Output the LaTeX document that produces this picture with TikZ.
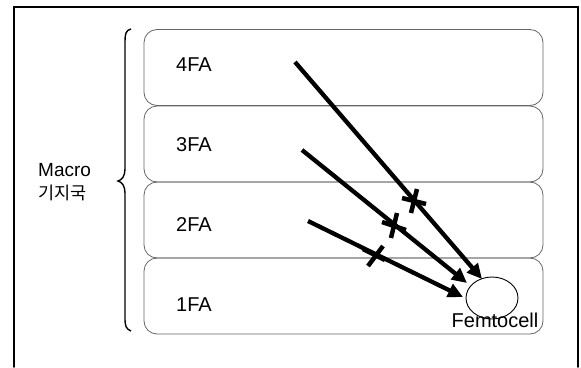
\documentclass[tikz,border=0pt]{standalone}
\usepackage{fontspec}
\setmainfont{Liberation Sans}
\newfontfamily\krfont{Noto Sans CJK KR}
\usetikzlibrary{arrows.meta,shapes.geometric}
\begin{document}
\begin{tikzpicture}[x=1pt,y=-1pt,
  frame/.style={line width=1.6pt,line cap=round},
  fabox/.style={draw=black!60,line width=0.8pt,rounded corners=13pt,minimum width=399pt,minimum height=76pt,inner sep=0pt},
  falabel/.style={anchor=west,font=\fontsize{20}{24}\selectfont,inner sep=0pt},
  sig/.style={line width=4.3pt,-{Triangle[length=15pt,width=14pt]}},
  xarm/.style={line width=4.5pt},
  bracestyle/.style={line width=1.4pt}]
\useasboundingbox (0,0) rectangle (581,367);
% outer frame (open at the bottom)
\draw[frame] (14,367) -- (14,7) -- (578,7) -- (578,367);
% frequency bands
\node[fabox] (fa4) at (343.5,67.5) {};
\node[fabox] (fa3) at (343.5,144) {};
\node[fabox] (fa2) at (343.5,220) {};
\node[fabox] (fa1) at (343.5,296) {};
\node[falabel] (l4) at (176,65) {4FA};
\node[falabel] (l3) at (176,145) {3FA};
\node[falabel] (l2) at (176,225) {2FA};
\node[falabel] (l1) at (176,305) {1FA};
% brace and macro label
\draw[bracestyle] (131,29) .. controls (126,30) and (125,34) .. (125,41) -- (125,169)
  .. controls (125,176) and (122,180) .. (118,181)
  .. controls (122,182) and (125,186) .. (125,193) -- (125,318)
  .. controls (125,326) and (126,329) .. (131,331);
\node[anchor=west,inner sep=0pt,font=\fontsize{19}{23}\selectfont] (macro) at (38,170) {Macro};
\node[anchor=west,inner sep=0pt,font=\krfont\fontsize{17.5}{21}\selectfont] (bs) at (38,193) {기지국};
% femtocell
\node[ellipse,draw,line width=0.9pt,minimum width=52pt,minimum height=42pt,inner sep=0pt] (femto) at (492,298) {};
\node[anchor=base,inner sep=0pt,font=\fontsize{20}{24}\selectfont] (femtolabel) at (495,327) {Femtocell};
% signals
\coordinate (s4) at (295,62);
\coordinate (s3) at (302,150);
\coordinate (s2) at (308,221);
\coordinate (e4) at (482,279);
\coordinate (e3) at (467,283);
\coordinate (e2) at (463,297);
\draw[sig] (s4) -- (e4);
\draw[sig] (s3) -- (e3);
\draw[sig] (s2) -- (e2);
% blocking marks
\coordinate (x4) at (414,201);
\coordinate (x3) at (394,226);
\coordinate (x2) at (375,255);
\draw[xarm] ([shift={(-12,-3)}]x4) -- ([shift={(12,3)}]x4);
\draw[xarm] ([shift={(3,-12)}]x4) -- ([shift={(-3,12)}]x4);
\draw[xarm] ([shift={(-12,-4)}]x3) -- ([shift={(12,4)}]x3);
\draw[xarm] ([shift={(3,-13)}]x3) -- ([shift={(-3,12)}]x3);
\draw[xarm] ([shift={(-12,-6)}]x2) -- ([shift={(10,5)}]x2);
\draw[xarm] ([shift={(8,-9)}]x2) -- ([shift={(-7,11)}]x2);
\end{tikzpicture}
\end{document}
